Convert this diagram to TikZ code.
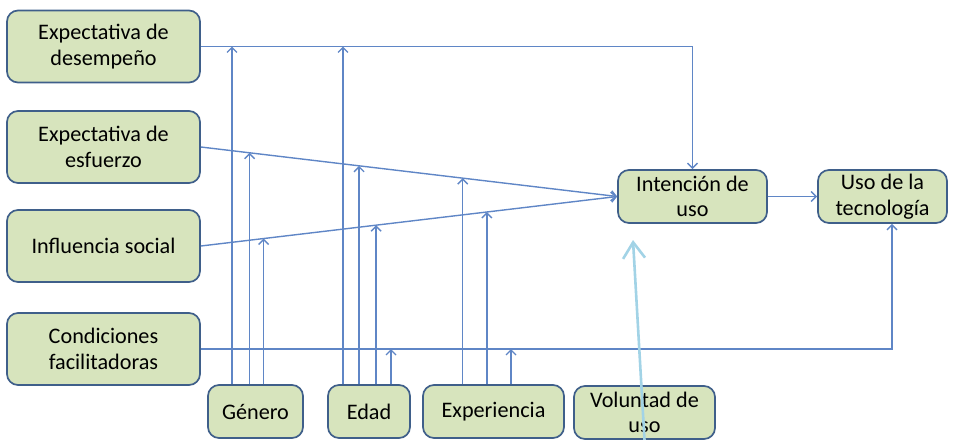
\documentclass[tikz,border=0pt]{standalone}
\usepackage{fontspec}
\setmainfont{Carlito}
\usetikzlibrary{arrows.meta, calc}

\definecolor{boxfill}{HTML}{D7E4BD}
\definecolor{boxline}{HTML}{3F5F8A}
\definecolor{linkblue}{HTML}{5F86C6}
\definecolor{volblue}{HTML}{A2D3E6}

\begin{document}
\begin{tikzpicture}[x=1pt, y=-1pt,
    box/.style={draw=boxline, fill=boxfill, line width=1.7pt, rounded corners=11pt,
        align=center, inner sep=2pt, font=\fontsize{22.2}{25.5}\selectfont},
    sidebox/.style={box, minimum width=193pt, minimum height=72pt},
    smallbox/.style={box, minimum height=53pt},
    link/.style={draw=linkblue, line width=1.4pt, -{Straight Barb[length=5pt, width=10pt]}},
    volarrow/.style={draw=volblue, line width=2.6pt, -{Straight Barb[length=16pt, width=22pt]}}]
    % Frame
    \useasboundingbox (0,0) rectangle (954,440);
    % Determinants on the left
    \node[sidebox] (des) at (103.5,46.5) {Expectativa de\\desempeño};
    \node[sidebox] (esf) at (103.5,147) {Expectativa de\\esfuerzo};
    \node[sidebox] (inf) at (103.5,246) {Influencia social};
    \node[sidebox] (con) at (103.5,349) {Condiciones\\facilitadoras};
    % Moderators at the bottom
    \node[smallbox, minimum width=95pt] (gen) at (255.5,411.5) {Género};
    \node[smallbox, minimum width=82pt] (eda) at (369,411.5) {Edad};
    \node[smallbox, minimum width=141pt] (expe) at (493.5,411.5) {Experiencia};
    \node[smallbox, minimum width=141pt] (vol) at (644.5,412.5) {Voluntad de\\uso};
    % Intention and use
    \node[smallbox, minimum width=149pt] (int) at (692.5,196.5) {Intención de\\uso};
    \node[smallbox, minimum width=129pt] (uso) at (882.5,196.5) {Uso de la\\tecnología};

    % Main paths
    \draw[link] (des.east) -| (int.north);
    \draw[link] (esf.east) -- (int.west);
    \draw[link] (inf.east) -- (int.west);
    \draw[link] (int.east) -- (uso.west);
    \coordinate (usoin) at ([xshift=9.5pt]uso.south);
    \draw[link] (con.east) -| (usoin);

    % Moderating arrows onto the desempeno line
    \foreach \x/\m in {232/gen, 343/eda}
    {
        \draw[link] (\x,0 |- \m.north) -- (\x,0 |- des.east);
    }
    % Moderating arrows onto the esfuerzo line
    \foreach \t/\m in {0.117/gen, 0.380/eda, 0.629/expe}
    {
        \coordinate (pe) at ($(esf.east)!\t!(int.west)$);
        \draw[link] (pe |- \m.north) -- (pe);
    }
    % Moderating arrows onto the influencia line
    \foreach \t/\m in {0.151/gen, 0.421/eda, 0.687/expe}
    {
        \coordinate (pi) at ($(inf.east)!\t!(int.west)$);
        \draw[link] (pi |- \m.north) -- (pi);
    }
    % Moderating arrows onto the condiciones line
    \foreach \x/\m in {391/eda, 511/expe}
    {
        \draw[link] (\x,0 |- \m.north) -- (\x,0 |- con.east);
    }

    % Voluntad de uso
    \coordinate (volend) at (633,240);
    \draw[volarrow] (vol.south) -- (volend);
\end{tikzpicture}
\end{document}
